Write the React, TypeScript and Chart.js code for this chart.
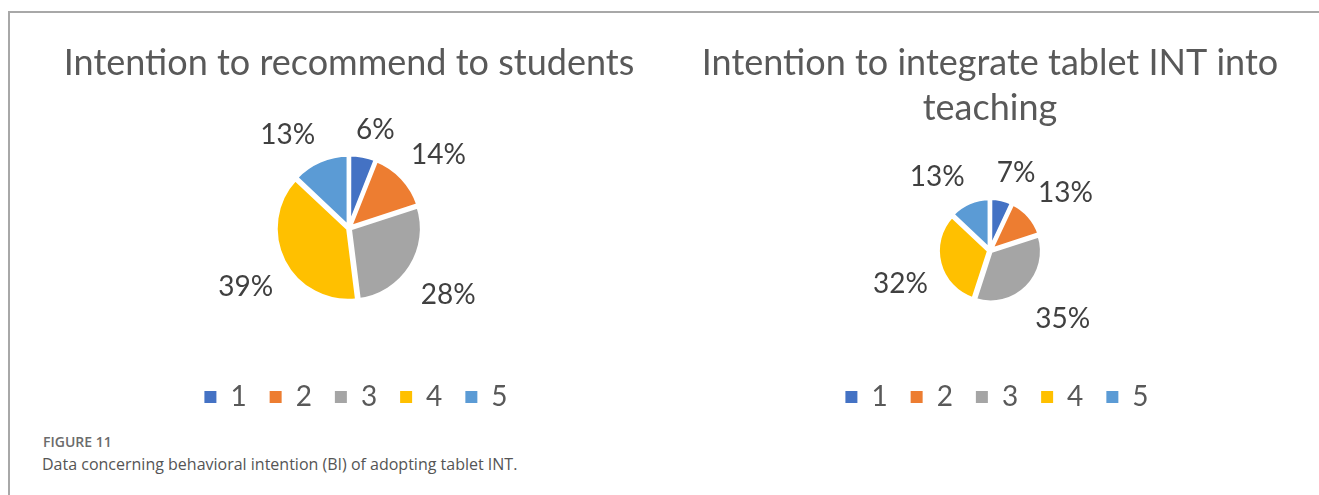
import React, { useEffect, useRef } from "react";
import { Chart, registerables } from "chart.js";

Chart.register(...registerables);

const categories = ["1", "2", "3", "4", "5"];
const recommendValues = [6, 14, 28, 39, 13];
const integrateValues = [7, 13, 35, 32, 13];
const sliceColors = ["#4472C4", "#ED7D31", "#A5A5A5", "#FFC000", "#5B9BD5"];
const recommendTitle = ["Intention to recommend to students"];
const integrateTitle = ["Intention to integrate tablet INT into", "teaching"];
const figureLabel = "FIGURE 11";
const figureCaption = "Data concerning behavioral intention (BI) of adopting tablet INT.";

// Draws "NN%" labels outside each slice, anchored just beyond the rim at the
// slice's mid-angle, with the text box pushed away from the pie.
const outsideLabels = {
  id: "outsideLabels",
  afterDatasetsDraw(chart: any, _args: any, opts: any) {
    const ctx = chart.ctx;
    const ds = chart.data.datasets[0];
    const meta = chart.getDatasetMeta(0);
    const gap = opts.gap ?? 13;
    const hh = opts.halfHeight ?? 15;
    ctx.save();
    ctx.font = "28px Lato";
    ctx.fillStyle = "#404040";
    ctx.textAlign = "center";
    ctx.textBaseline = "middle";
    meta.data.forEach((arc: any, i: number) => {
      const { x, y, startAngle, endAngle, outerRadius } = arc.getProps(
        ["x", "y", "startAngle", "endAngle", "outerRadius"],
        true
      );
      const mid = (startAngle + endAngle) / 2;
      const text = ds.data[i] + "%";
      const w = ctx.measureText(text).width;
      const c = Math.cos(mid);
      const s = Math.sin(mid);
      const R = outerRadius + gap;
      const ax = x + c * R;
      const ay = y + s * R;
      const ox = Math.sign(c) * (w / 2) * Math.min(1, Math.abs(c) / 0.35);
      const oy = Math.sign(s) * hh + (s > 0 ? 12 * s : 0);
      ctx.fillText(text, ax + ox, ay + oy);
    });
    ctx.restore();
  },
};

const legendShift = {
  id: "legendShift",
  afterLayout(chart: any, _args: any, opts: any) {
    const l = chart.legend;
    if (!l) return;
    const sx = opts.dx ?? 0;
    const sy = opts.dy ?? 0;
    l.left += sx;
    l.right += sx;
    l.top += sy;
    l.bottom += sy;
  },
};

function PieChart(props: {
  values: number[];
  title: string[];
  radius: number;
  left: number;
}) {
  const ref = useRef<HTMLCanvasElement | null>(null);
  useEffect(() => {
    if (!ref.current) return;
    const chart = new Chart(ref.current, {
      type: "pie",
      data: {
        labels: categories,
        datasets: [
          {
            data: props.values,
            backgroundColor: sliceColors,
            borderColor: "#ffffff",
            borderWidth: 4,
            offset: 4,
            radius: props.radius,
          } as any,
        ],
      },
      options: {
        responsive: false,
        animation: false,
        devicePixelRatio: 1,
        layout: { padding: 0 },
        plugins: {
          title: {
            display: true,
            text: props.title,
            color: "#595959",
            font: { family: "Lato", size: 36, weight: "normal", lineHeight: 1.25 },
            padding: { top: 29, bottom: 12 },
          },
          legend: {
            position: "bottom",
            labels: {
              boxWidth: 12,
              boxHeight: 12,
              padding: 23,
              color: "#595959",
              font: { family: "Lato", size: 28 },
              generateLabels: (ch: any) =>
                ch.data.labels.map((l: string, i: number) => ({
                  text: l,
                  fillStyle: sliceColors[i],
                  strokeStyle: sliceColors[i],
                  lineWidth: 0,
                  hidden: false,
                  index: i,
                  fontColor: "#595959",
                })),
            },
          },
          tooltip: { enabled: false },
          outsideLabels: { gap: 13, halfHeight: 15 },
          legendShift: { dx: 7, dy: 2 },
        } as any,
      },
      plugins: [outsideLabels, legendShift],
    });
    return () => chart.destroy();
  }, []);
  return (
    <canvas
      ref={ref}
      width={640}
      height={407}
      style={{ position: "absolute", left: props.left, top: 12, width: 640, height: 407 }}
    />
  );
}

export default function App() {
  return (
    <div style={{ position: "absolute", left: 0, top: 0, width: 1319, height: 495, overflow: "hidden", background: "#ffffff" }}>
      <div
        style={{
          position: "absolute",
          left: 8,
          top: 11,
          width: 1400,
          height: 600,
          borderTop: "2px solid #a8a8a8",
          borderLeft: "2px solid #a8a8a8",
        }}
      />
      <PieChart values={recommendValues} title={recommendTitle} radius={72} left={29} />
      <PieChart values={integrateValues} title={integrateTitle} radius={51} left={670} />
      <div
        style={{
          position: "absolute",
          left: 43,
          top: 432,
          fontFamily: "'Open Sans', sans-serif",
          fontSize: 14,
          fontWeight: 600,
          color: "#6b6b6b",
          lineHeight: "20px",
        }}
      >
        {figureLabel}
      </div>
      <div
        style={{
          position: "absolute",
          left: 42,
          top: 453,
          fontFamily: "'Open Sans', sans-serif",
          fontSize: 16,
          color: "#555555",
          lineHeight: "22px",
          whiteSpace: "nowrap",
        }}
      >
        {figureCaption}
      </div>
    </div>
  );
}
